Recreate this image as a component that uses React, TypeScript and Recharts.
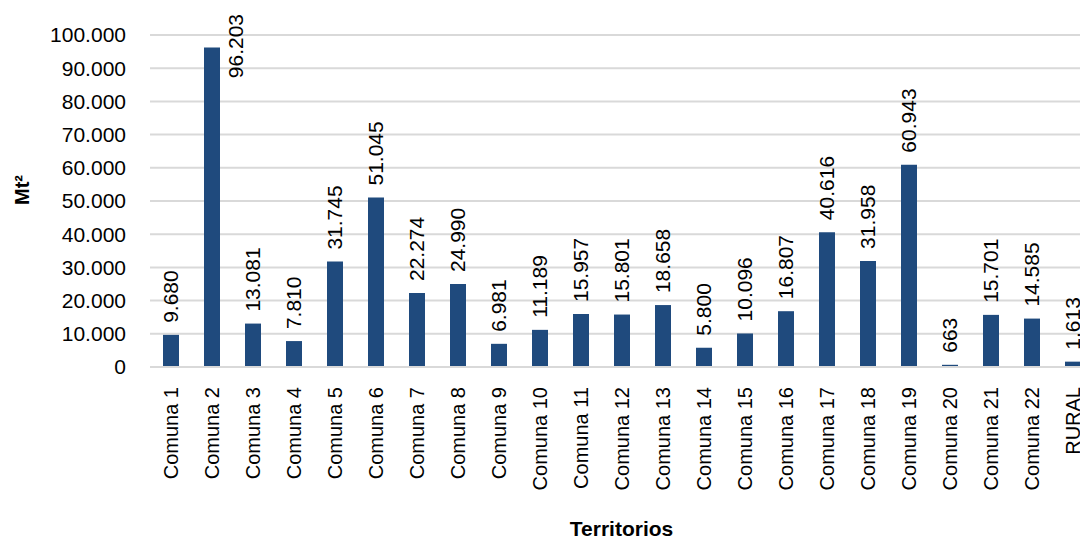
import React from "react";
import {
  BarChart,
  Bar,
  XAxis,
  YAxis,
  CartesianGrid,
  LabelList,
} from "recharts";

const territorios = [
  "Comuna 1", "Comuna 2", "Comuna 3", "Comuna 4", "Comuna 5", "Comuna 6",
  "Comuna 7", "Comuna 8", "Comuna 9", "Comuna 10", "Comuna 11", "Comuna 12",
  "Comuna 13", "Comuna 14", "Comuna 15", "Comuna 16", "Comuna 17", "Comuna 18",
  "Comuna 19", "Comuna 20", "Comuna 21", "Comuna 22", "RURAL",
];

const metros = [
  9680, 96203, 13081, 7810, 31745, 51045, 22274, 24990, 6981, 11189, 15957,
  15801, 18658, 5800, 10096, 16807, 40616, 31958, 60943, 663, 15701, 14585,
  1613,
];

const yTicks = [0, 10000, 20000, 30000, 40000, 50000, 60000, 70000, 80000, 90000, 100000];

const data = territorios.map((name, i) => ({ name, val: metros[i] }));

const FONT = "'Liberation Sans', Arial, sans-serif";
const BAR_COLOR = "#1F4A7D";
const GRID = "#d9d9d9";

const fmt = (n: number) =>
  String(n).replace(/\B(?=(\d{3})+(?!\d))/g, ".");

function CategoryTick(props: any) {
  const { x, y, payload } = props;
  return (
    <text
      x={x}
      y={y}
      transform={`rotate(-90, ${x}, ${y})`}
      textAnchor="end"
      dominantBaseline="central"
      fontSize={20}
      fontFamily={FONT}
      fill="#000"
    >
      {payload.value}
    </text>
  );
}

function ValueLabel(props: any) {
  const { x, y, width, value } = props;
  const s = fmt(value);
  const fs = 21;
  const digits = s.replace(/\./g, "").length;
  const dots = s.length - digits;
  const len = (digits * 0.556 + dots * 0.278) * fs;
  let cx = x + width / 2;
  let start = y - 12;
  // not enough room above the bar: move the label beside it
  if (start - len < 10) {
    cx = cx + 24;
    start = 14 + len;
  }
  return (
    <text
      x={cx}
      y={start}
      transform={`rotate(-90, ${cx}, ${start})`}
      textAnchor="start"
      dominantBaseline="central"
      fontSize={fs}
      fontFamily={FONT}
      fill="#000"
    >
      {s}
    </text>
  );
}

export default function App() {
  return (
    <div
      style={{
        position: "absolute",
        left: 0,
        top: 0,
        width: 1080,
        height: 538,
        overflow: "hidden",
        background: "#fff",
      }}
    >
      <BarChart
        width={1110}
        height={538}
        data={data}
        margin={{ top: 35, right: 17, left: 0, bottom: 0 }}
        barCategoryGap={0}
      >
        <CartesianGrid vertical={false} stroke={GRID} strokeWidth={2} />
        <XAxis
          dataKey="name"
          height={171}
          interval={0}
          tickLine={false}
          axisLine={{ stroke: GRID, strokeWidth: 2 }}
          tick={<CategoryTick />}
          tickMargin={14}
          label={(p: any) => {
            const vb = p.viewBox;
            return (
              <text
                x={vb.x + vb.width / 2}
                y={536}
                textAnchor="middle"
                fontSize={21}
                fontWeight="bold"
                fontFamily={FONT}
                fill="#000"
              >
                Territorios
              </text>
            );
          }}
        />
        <YAxis
          width={150}
          domain={[0, 100000]}
          ticks={yTicks}
          interval={0}
          tickLine={false}
          tickSize={0}
          tickMargin={24}
          axisLine={false}
          tickFormatter={fmt}
          tick={{ fontSize: 21, fontFamily: FONT, fill: "#000" }}
          label={(p: any) => {
            const cy = 190;
            return (
              <text
                x={22}
                y={cy}
                transform={`rotate(-90, 22, ${cy})`}
                textAnchor="middle"
                dominantBaseline="central"
                fontSize={20}
                fontWeight="bold"
                fontFamily={FONT}
                fill="#000"
              >
                Mt²
              </text>
            );
          }}
        />
        <Bar dataKey="val" fill={BAR_COLOR} barSize={16} isAnimationActive={false}>
          <LabelList dataKey="val" content={<ValueLabel />} />
        </Bar>
      </BarChart>
    </div>
  );
}
